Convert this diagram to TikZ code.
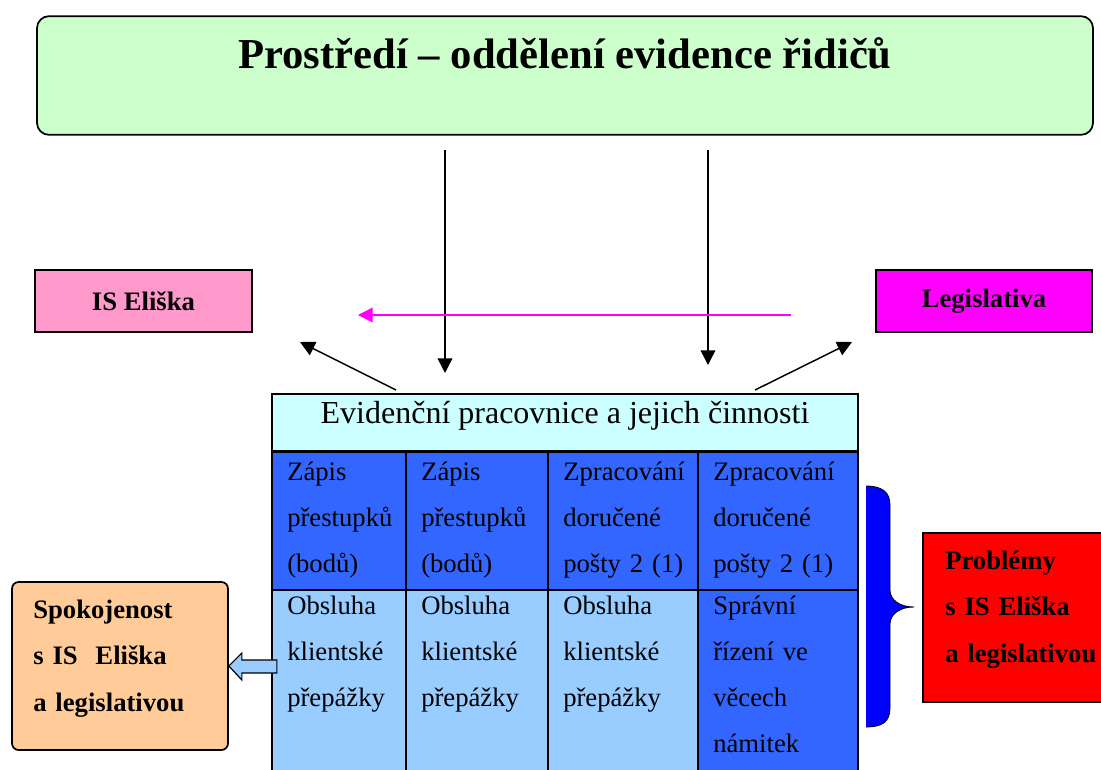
\documentclass[tikz,border=0pt]{standalone}
\usepackage{fontspec}
\setmainfont{Liberation Serif}
\usetikzlibrary{arrows.meta}

\definecolor{envgreen}{HTML}{CCFFCC}
\definecolor{ispink}{HTML}{FF99CC}
\definecolor{legmagenta}{HTML}{FF00FF}
\definecolor{headcyan}{HTML}{CCFFFF}
\definecolor{cellblue}{HTML}{3366FF}
\definecolor{celllight}{HTML}{99CCFF}
\definecolor{spokorange}{HTML}{FFCC99}
\definecolor{probred}{HTML}{FF0000}
\definecolor{braceblue}{HTML}{0000FF}

\begin{document}
\begin{tikzpicture}[x=0.75pt, y=-0.75pt,
    box/.style={draw, line width=1.3pt, inner sep=0pt},
    arr/.style={-{Triangle[length=11pt,width=11pt]}, line width=1.1pt},
    celltext/.style={anchor=base west, align=left, text width=110pt, inner sep=0pt, font=\fontsize{20}{34.5}\selectfont},
    boldtext/.style={anchor=base west, align=left, text width=130pt, inner sep=0pt, font=\fontsize{20}{35}\selectfont\bfseries}]
  \useasboundingbox (0,0) rectangle (1101,769);
  \clip (0,0) rectangle (1101,769);

  % top and side boxes
  \node[box, fill=envgreen, rounded corners=9pt, minimum width=792pt, minimum height=89pt] (env) at (565,75.5) {};
  \node[anchor=base, font=\fontsize{32}{38}\selectfont\bfseries] (title) at (565,68) {Prostředí – oddělení evidence řidičů};
  \node[box, fill=ispink, minimum width=162.75pt, minimum height=46.5pt, font=\fontsize{20}{24}\selectfont\bfseries] (is) at (143.5,301) {IS Eliška};
  \node[box, fill=legmagenta, minimum width=162pt, minimum height=46.5pt, font=\fontsize{20}{24}\selectfont\bfseries] (leg) at (984,301) {Legislativa};

  % arrows
  \coordinate (d1) at (445,150);
  \coordinate (d1e) at (445,373);
  \coordinate (d2) at (708,150);
  \coordinate (d2e) at (708,365);
  \coordinate (m1) at (791,315);
  \coordinate (m1e) at (358,315);
  \coordinate (l1) at (396,390);
  \coordinate (l1e) at (300,342);
  \coordinate (r1) at (755,390);
  \coordinate (r1e) at (852,342);
  \draw[arr] (d1) -- (d1e);
  \draw[arr] (d2) -- (d2e);
  \draw[arr, legmagenta] (m1) -- (m1e);
  \draw[arr] (l1) -- (l1e);
  \draw[arr] (r1) -- (r1e);

  % table
  \node[box, fill=headcyan, minimum width=439.5pt, minimum height=42.75pt] (head) at (565,422.5) {};
  \node[anchor=base, font=\fontsize{24}{28}\selectfont] (headtext) at (565,423) {Evidenční pracovnice a jejich činnosti};
  \fill[cellblue] (272,451) rectangle (858,590);
  \fill[celllight] (272,590) rectangle (698,780);
  \fill[cellblue] (698,590) rectangle (858,780);
  \draw[line width=1.3pt] (272,451) -- (272,780) (858,451) -- (858,780)
    (272,590) -- (858,590) (406,451) -- (406,780) (548,451) -- (548,780) (698,451) -- (698,780);
  \draw[line width=1.3pt] (head.south west) -- (head.south east);

  \node[celltext] (z1) at (287,480) {Zápis\\přestupků\\(bodů)};
  \node[celltext] (z2) at (421,480) {Zápis\\přestupků\\(bodů)};
  \node[celltext] (zp1) at (563,480) {Zpracování\\doručené\\pošty 2 (1)};
  \node[celltext] (zp2) at (713,480) {Zpracování\\doručené\\pošty 2 (1)};
  \node[celltext] (o1) at (287,614) {Obsluha\\klientské\\přepážky};
  \node[celltext] (o2) at (421,614) {Obsluha\\klientské\\přepážky};
  \node[celltext] (o3) at (563,614) {Obsluha\\klientské\\přepážky};
  \node[celltext] (sr) at (713,614) {Správní\\řízení ve\\věcech\\námitek};

  % satisfaction box
  \node[box, fill=spokorange, rounded corners=5pt, minimum width=162pt, minimum height=126pt] (spok) at (120,666) {};
  \node[boldtext] (spoktext) at (33,618) {Spokojenost\\s IS\ \ Eliška\\a legislativou};
  \draw[fill=celllight, line width=0.9pt] (spok.east) -- ++(13,-13) -- ++(0,7) -- ++(35,0) -- ++(0,13) -- ++(-35,0) -- ++(0,7) -- cycle;

  % problems box and brace
  \node[box, fill=probred, minimum width=141.75pt, minimum height=126.75pt] (prob) at (1017.5,617.5) {};
  \node[boldtext] (probtext) at (945,569) {Problémy\\s IS Eliška\\a legislativou};
  \fill[braceblue] (866,486) .. controls (882,486) and (890,492) .. (890,505) -- (890,590)
    .. controls (890,600) and (900,607) .. (914,607) .. controls (900,607) and (890,614) .. (890,624)
    -- (890,708) .. controls (890,722) and (882,727) .. (866,727) -- cycle;
  \draw[line width=0.6pt] (866,486) .. controls (882,486) and (890,492) .. (890,505) -- (890,590)
    .. controls (890,600) and (900,607) .. (914,607) .. controls (900,607) and (890,614) .. (890,624)
    -- (890,708) .. controls (890,722) and (882,727) .. (866,727);
\end{tikzpicture}
\end{document}
